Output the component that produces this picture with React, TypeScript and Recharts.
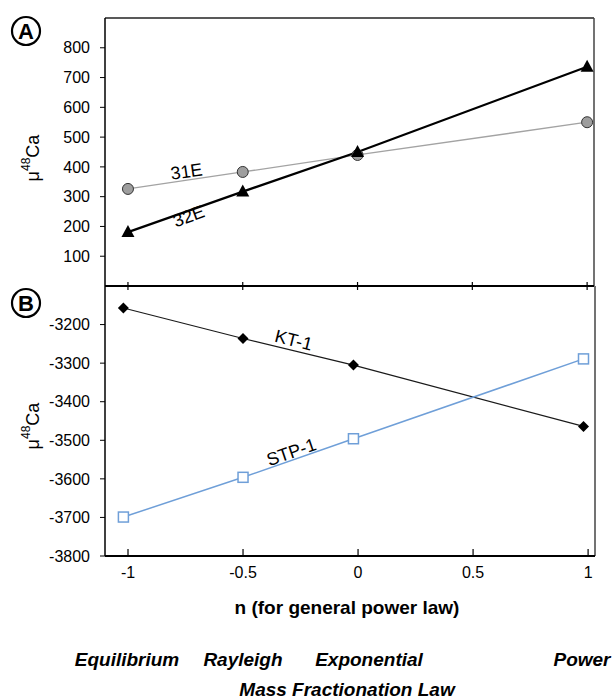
import React from "react";
import { LineChart, Line, XAxis, YAxis, ReferenceLine, ReferenceDot } from "recharts";

const nTop = [-1, -0.5, 0, 1];
const e31 = [326, 383, 440, 550];
const e32 = [181, 317, 450, 736];
const nBottom = [-1.02, -0.5, -0.02, 0.98];
const kt1 = [-3157, -3236, -3305, -3464];
const stp1 = [-3699, -3596, -3496, -3289];
const xTicks = [-1, -0.5, 0, 0.5, 1];
const topYTicks = [100, 200, 300, 400, 500, 600, 700, 800];
const bottomYTicks = [-3800, -3700, -3600, -3500, -3400, -3300, -3200];
const lawLabels = ["Equilibrium", "Rayleigh", "Exponential", "Power"];

const FONT = "'Liberation Sans', Arial, Helvetica, sans-serif";
const X_DOMAIN: [number, number] = [-1.1, 1.03];

const zip = (xs: number[], ys: number[]) => xs.map((n, i) => ({ n, v: ys[i] }));
const d31 = zip(nTop, e31);
const d32 = zip(nTop, e32);
const dKT = zip(nBottom, kt1);
const dSTP = zip(nBottom, stp1);

const Circle = (p: any) => (
  <circle key={`c${p.index}`} cx={p.cx} cy={p.cy} r={5.5} fill="#9e9e9e" stroke="#333" strokeWidth={1} />
);
const Tri = (p: any) => (
  <path key={`t${p.index}`} d={`M${p.cx},${p.cy - 7} L${p.cx + 6.5},${p.cy + 5} L${p.cx - 6.5},${p.cy + 5} Z`} fill="#000" />
);
const Diamond = (p: any) => (
  <path key={`d${p.index}`} d={`M${p.cx},${p.cy - 5.5} L${p.cx + 5.5},${p.cy} L${p.cx},${p.cy + 5.5} L${p.cx - 5.5},${p.cy} Z`} fill="#000" />
);
const Square = (p: any) => (
  <rect key={`s${p.index}`} x={p.cx - 5} y={p.cy - 5} width={10} height={10} fill="#fff" stroke="#6f9fd8" strokeWidth={1.5} />
);

const CrossTick = (p: any) => (
  <line x1={p.x} x2={p.x} y1={p.y - 4} y2={p.y + 4} stroke="#000" strokeWidth={1.2} />
);
const BottomTick = (p: any) => (
  <g>
    <line x1={p.x} x2={p.x} y1={p.y - 7} y2={p.y} stroke="#000" strokeWidth={1.2} />
    <text x={p.x} y={p.y + 22} textAnchor="middle" fontSize={16} fontFamily={FONT} fill="#000">
      {p.payload.value}
    </text>
  </g>
);

const RotLabel = (text: string, angle: number) => (props: any) => {
  const vb = props.viewBox || {};
  const cx = vb.x + (vb.width || 0) / 2;
  const cy = vb.y + (vb.height || 0) / 2;
  return (
    <text x={cx} y={cy} transform={`rotate(${angle},${cx},${cy})`} textAnchor="middle" dominantBaseline="central" fontSize={18} fontFamily={FONT} fill="#000">
      {text}
    </text>
  );
};

const yTickStyle = { fill: "#000", fontSize: 16, fontFamily: FONT };

export default function App() {
  return (
    <div style={{ position: "absolute", left: 0, top: 0, width: 612, height: 699, background: "#fff" }}>
      <div style={{ position: "absolute", left: 0, top: 0 }}>
        <LineChart width={612} height={300} margin={{ top: 18, right: 18, left: 45, bottom: 0 }}>
          <XAxis dataKey="n" type="number" domain={X_DOMAIN} allowDataOverflow ticks={xTicks} height={14}
            tickSize={0} tickMargin={0} tickLine={false} tick={<CrossTick />} axisLine={{ stroke: "#000", strokeWidth: 2 }} />
          <YAxis type="number" domain={[0, 900]} allowDataOverflow ticks={topYTicks} width={60}
            tickSize={5} tickMargin={10} tick={yTickStyle} tickLine={{ stroke: "#000" }} axisLine={{ stroke: "#000", strokeWidth: 1.5 }} />
          <ReferenceLine y={900} stroke="#222" strokeWidth={1.5} />
          <ReferenceLine x={1.03} stroke="#444" strokeWidth={1.5} />
          <Line data={d31} dataKey="v" stroke="#a3a3a3" strokeWidth={1.3} dot={Circle} isAnimationActive={false} />
          <Line data={d32} dataKey="v" stroke="#000" strokeWidth={2.2} dot={Tri} isAnimationActive={false} />
          <ReferenceDot x={-0.745} y={384} r={0} label={RotLabel("31E", -8)} />
          <ReferenceDot x={-0.735} y={234} r={0} label={RotLabel("32E", -20)} />
        </LineChart>
      </div>
      <div style={{ position: "absolute", left: 0, top: 270 }}>
        <LineChart width={612} height={330} margin={{ top: 16, right: 17, left: 45, bottom: 14 }}>
          <XAxis dataKey="n" type="number" domain={X_DOMAIN} allowDataOverflow ticks={xTicks} height={30}
            tickSize={0} tickMargin={0} tickLine={false} tick={<BottomTick />} axisLine={{ stroke: "#000", strokeWidth: 2 }} />
          <YAxis type="number" domain={[-3800, -3100]} allowDataOverflow ticks={bottomYTicks} width={60}
            tickSize={5} tickMargin={10} tick={yTickStyle} tickLine={{ stroke: "#000" }} axisLine={{ stroke: "#000", strokeWidth: 1.5 }} />
          <ReferenceLine x={1.03} stroke="#444" strokeWidth={1.5} />
          <Line data={dKT} dataKey="v" stroke="#1a1a1a" strokeWidth={1.2} dot={Diamond} isAnimationActive={false} />
          <Line data={dSTP} dataKey="v" stroke="#6f9fd8" strokeWidth={1.5} dot={Square} isAnimationActive={false} />
          <ReferenceDot x={-0.28} y={-3241} r={0} label={RotLabel("KT-1", 14)} />
          <ReferenceDot x={-0.29} y={-3531} r={0} label={RotLabel("STP-1", -19)} />
        </LineChart>
      </div>
      <svg width={612} height={699} style={{ position: "absolute", left: 0, top: 0, pointerEvents: "none" }} fontFamily={FONT}>
        <circle cx={26} cy={31} r={14} fill="#fff" stroke="#000" strokeWidth={2.2} />
        <text x={26} y={31} textAnchor="middle" dominantBaseline="central" fontSize={22} fontWeight="bold">A</text>
        <circle cx={26} cy={303} r={14} fill="#fff" stroke="#000" strokeWidth={2.2} />
        <text x={26} y={303} textAnchor="middle" dominantBaseline="central" fontSize={22} fontWeight="bold">B</text>
        <text transform="translate(33,158) rotate(-90)" textAnchor="middle" dominantBaseline="central" fontSize={18}>
          μ<tspan fontSize={12} dy={-7}>48</tspan><tspan dy={7}>Ca</tspan>
        </text>
        <text transform="translate(33,426) rotate(-90)" textAnchor="middle" dominantBaseline="central" fontSize={18}>
          μ<tspan fontSize={12} dy={-7}>48</tspan><tspan dy={7}>Ca</tspan>
        </text>
        <text x={347} y={614} textAnchor="middle" fontSize={19} fontWeight="bold">n (for general power law)</text>
        <text x={127} y={666} textAnchor="middle" fontSize={19} fontWeight="bold" fontStyle="italic">{lawLabels[0]}</text>
        <text x={243} y={666} textAnchor="middle" fontSize={19} fontWeight="bold" fontStyle="italic">{lawLabels[1]}</text>
        <text x={369} y={666} textAnchor="middle" fontSize={19} fontWeight="bold" fontStyle="italic">{lawLabels[2]}</text>
        <text x={582} y={666} textAnchor="middle" fontSize={19} fontWeight="bold" fontStyle="italic">{lawLabels[3]}</text>
        <text x={347} y={696} textAnchor="middle" fontSize={19} fontWeight="bold" fontStyle="italic">Mass Fractionation Law</text>
      </svg>
    </div>
  );
}
